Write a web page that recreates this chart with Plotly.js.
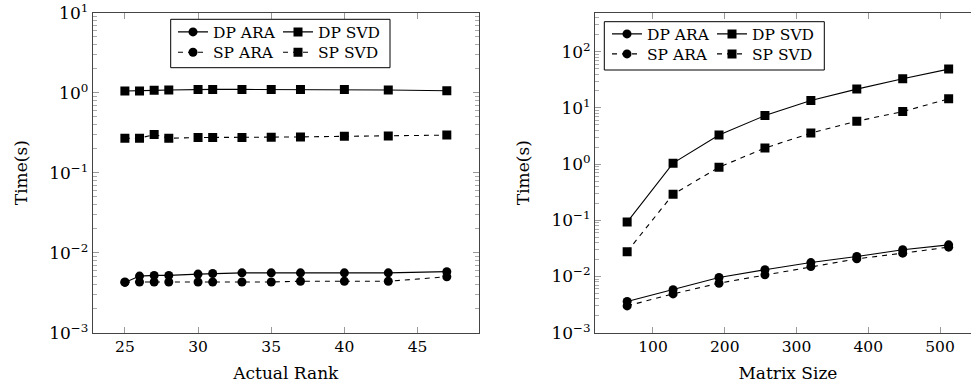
<!DOCTYPE html>
<html>
<head>
<meta charset="utf-8">
<script src="https://cdn.plot.ly/plotly-3.0.1.min.js"></script>
<style>
html, body { margin: 0; padding: 0; overflow: hidden; background: #fff; }
#chart { width: 982px; height: 387px; }
</style>
</head>
<body>
<div id="chart"></div>
<script>
// ---- Data ----
const rankX = [25, 26, 27, 28, 30, 31, 33, 35, 37, 40, 43, 47];
const rankDpAra = [0.00425, 0.0051, 0.0052, 0.0052, 0.0054, 0.0055, 0.0056, 0.0056, 0.0056, 0.0056, 0.0056, 0.0058];
const rankDpSvd = [1.05, 1.05, 1.07, 1.08, 1.10, 1.10, 1.10, 1.10, 1.10, 1.10, 1.08, 1.06];
const rankSpAra = [0.0043, 0.0043, 0.0043, 0.0043, 0.0043, 0.0043, 0.0043, 0.0043, 0.0044, 0.0044, 0.0044, 0.0050];
const rankSpSvd = [0.27, 0.27, 0.30, 0.27, 0.275, 0.275, 0.275, 0.278, 0.28, 0.285, 0.288, 0.295];

const sizeX = [64, 128, 192, 256, 320, 384, 448, 512];
const sizeDpAra = [0.0036, 0.0058, 0.0096, 0.0132, 0.0177, 0.0227, 0.0299, 0.0366];
const sizeDpSvd = [0.093, 1.04, 3.3, 7.3, 13.5, 21.6, 33, 49];
const sizeSpAra = [0.0030, 0.0049, 0.0076, 0.0107, 0.0150, 0.0206, 0.0260, 0.0333];
const sizeSpSvd = [0.0277, 0.29, 0.88, 1.93, 3.56, 5.8, 8.6, 14.5];

const seriesNames = ['DP ARA', 'DP SVD', 'SP ARA', 'SP SVD'];
const leftXTicks = [25, 30, 35, 40, 45];
const rightXTicks = [100, 200, 300, 400, 500];
const leftYTicks = [1e-3, 1e-2, 1e-1, 1, 10];
const leftYTickText = ['10<sup>−3</sup>', '10<sup>−2</sup>', '10<sup>−1</sup>', '10<sup>0</sup>', '10<sup>1</sup>'];
const rightYTicks = [1e-3, 1e-2, 1e-1, 1, 10, 100];
const rightYTickText = ['10<sup>−3</sup>', '10<sup>−2</sup>', '10<sup>−1</sup>', '10<sup>0</sup>', '10<sup>1</sup>', '10<sup>2</sup>'];

// ---- Layout helpers ----
const W = 982, H = 387;
const px = v => v / W;
const py = v => 1 - v / H;
const FONT = 'DejaVu Serif';

function minorVals(lo, hi) {
  const out = [];
  for (let e = lo; e < hi; e++) for (let m = 2; m <= 9; m++) out.push(m * Math.pow(10, e));
  return out;
}

function mkTrace(x, y, name, dashed, sym, xa, ya, legend) {
  return {
    x: x, y: y, name: name, type: 'scatter', mode: 'lines+markers',
    xaxis: xa, yaxis: ya, legend: legend,
    line: { color: '#000', width: 1.1, dash: dashed ? '5px,5px' : 'solid' },
    marker: { symbol: sym, size: 9, color: '#000' }
  };
}

const traces = [
  mkTrace(rankX, rankDpAra, seriesNames[0], false, 'circle', 'x', 'y', 'legend'),
  mkTrace(rankX, rankDpSvd, seriesNames[1], false, 'square', 'x', 'y', 'legend'),
  mkTrace(rankX, rankSpAra, seriesNames[2], true, 'circle', 'x', 'y', 'legend2'),
  mkTrace(rankX, rankSpSvd, seriesNames[3], true, 'square', 'x', 'y', 'legend2'),
  mkTrace(sizeX, sizeDpAra, seriesNames[0], false, 'circle', 'x2', 'y2', 'legend3'),
  mkTrace(sizeX, sizeDpSvd, seriesNames[1], false, 'square', 'x2', 'y2', 'legend3'),
  mkTrace(sizeX, sizeSpAra, seriesNames[2], true, 'circle', 'x2', 'y2', 'legend4'),
  mkTrace(sizeX, sizeSpSvd, seriesNames[3], true, 'square', 'x2', 'y2', 'legend4')
];

const xTickFont = { family: FONT, size: 15.5, color: '#000' };
const yTickFont = { family: FONT, size: 17, color: '#000' };
const titleFont = { family: FONT, size: 17, color: '#000' };
const yDomain = [py(332.7), py(12.7)];

function xAxis(domain, range, ticks, title) {
  return {
    domain: domain, range: range, tickmode: 'array', tickvals: ticks,
    ticks: 'inside', ticklen: 6, tickcolor: '#999', tickwidth: 1,
    showline: true, linecolor: '#444', linewidth: 1, mirror: 'ticks',
    showgrid: false, zeroline: false, tickfont: xTickFont,
    title: { text: title, font: titleFont, standoff: 11 }, fixedrange: true
  };
}
function yAxis(anchor, range, ticks, text, lo, hi) {
  return {
    anchor: anchor, domain: yDomain, type: 'log', range: range,
    tickmode: 'array', tickvals: ticks, ticktext: text,
    ticks: 'inside', ticklen: 6, tickcolor: '#999', tickwidth: 1,
    minor: { tickmode: 'array', tickvals: minorVals(lo, hi), ticks: 'inside', ticklen: 4, tickcolor: '#aaa', tickwidth: 1, showgrid: false },
    showline: true, linecolor: '#444', linewidth: 1, mirror: 'ticks',
    showgrid: false, zeroline: false, tickfont: yTickFont,
    title: { text: 'Time(s)', font: titleFont, standoff: 17 }, fixedrange: true
  };
}

function legendAt(xLeft, yCenter) {
  return {
    orientation: 'h', x: px(xLeft), y: py(yCenter), xanchor: 'left', yanchor: 'middle',
    bgcolor: 'rgba(0,0,0,0)', borderwidth: 0, font: { family: FONT, size: 15.5, color: '#000' },
    itemclick: false, itemdoubleclick: false, tracegroupgap: 0, itemwidth: 30,
    entrywidth: 60
  };
}

const layout = {
  width: W, height: H, margin: { l: 0, r: 0, t: 0, b: 0 },
  paper_bgcolor: '#fff', plot_bgcolor: '#fff', showlegend: true,
  xaxis: xAxis([px(92.7), px(479)], [22.8, 49.2], leftXTicks, 'Actual Rank'),
  yaxis: yAxis('x', [-3, 1], leftYTicks, leftYTickText, -3, 1),
  xaxis2: Object.assign(xAxis([px(595), px(980.8)], [19.2, 556.8], rightXTicks, 'Matrix Size'), { anchor: 'y2' }),
  yaxis2: yAxis('x2', [-3, 2.694], rightYTicks, rightYTickText, -3, 3),
  legend: legendAt(173, 32.3),
  legend2: legendAt(173, 52.7),
  legend3: legendAt(607, 34.3),
  legend4: legendAt(607, 54.3),
  shapes: [
    { type: 'rect', xref: 'paper', yref: 'paper', x0: px(170.7), x1: px(390), y0: py(67.7), y1: py(19.3),
      line: { color: '#000', width: 1 }, fillcolor: '#fff', layer: 'above' },
    { type: 'rect', xref: 'paper', yref: 'paper', x0: px(604.3), x1: px(824.3), y0: py(70), y1: py(21.7),
      line: { color: '#000', width: 1 }, fillcolor: '#fff', layer: 'above' }
  ]
};

Plotly.newPlot('chart', traces, layout, { staticPlot: true, displayModeBar: false });
</script>
</body>
</html>
